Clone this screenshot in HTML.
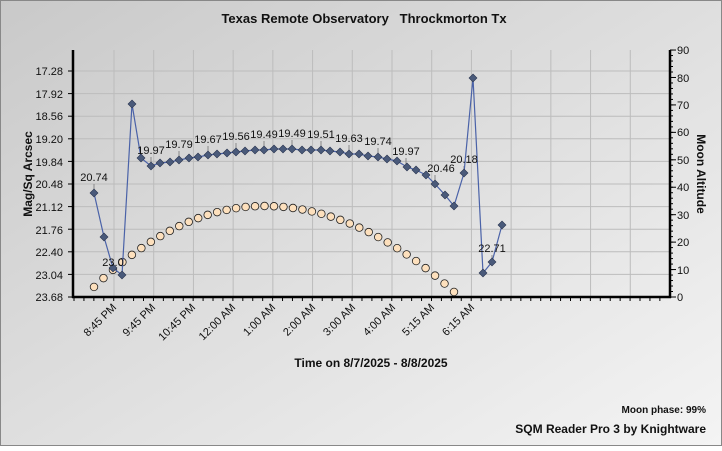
<!DOCTYPE html>
<html><head><meta charset="utf-8"><style>
html,body{margin:0;padding:0;}
body{width:722px;height:446px;overflow:hidden;font-family:"Liberation Sans",Arial,sans-serif;}
</style></head><body>
<svg id="s" width="722" height="446" xmlns="http://www.w3.org/2000/svg" font-family="Liberation Sans, Arial, sans-serif">
<defs>
<linearGradient id="bg" x1="0" y1="0" x2="1" y2="1">
<stop offset="0" stop-color="#c9c9c9"/><stop offset="1" stop-color="#f4f4f4"/>
</linearGradient>
<path id="dm" d="M0,-4 L4,0 L0,4 L-4,0 Z" fill="#4a5a7a" stroke="#2a3550" stroke-width="0.6"/>
</defs>
<rect x="0" y="0" width="722" height="446" fill="url(#bg)"/>
<rect x="0.5" y="0.5" width="721" height="445" fill="none" stroke="#888"/>
<text x="364" y="23" font-size="13" font-weight="bold" text-anchor="middle" fill="#111" xml:space="preserve">Texas Remote Observatory   Throckmorton Tx</text>
<g id="grid" stroke="#bcbcbc" stroke-width="1"></g>
<g stroke="#000" stroke-width="2.5">
<line x1="73" y1="50" x2="73" y2="298"/>
<line x1="670" y1="50" x2="670" y2="298"/>
<line x1="72" y1="297" x2="671" y2="297"/>
</g>
<g id="ticks" stroke="#000" stroke-width="1"></g>
<g font-size="11" fill="#111" text-anchor="end">
<text x="63" y="75">17.28</text><text x="63" y="98">17.92</text><text x="63" y="120">18.56</text>
<text x="63" y="143">19.20</text><text x="63" y="166">19.84</text><text x="63" y="188">20.48</text>
<text x="63" y="211">21.12</text><text x="63" y="234">21.76</text><text x="63" y="256">22.40</text>
<text x="63" y="279">23.04</text><text x="63" y="301">23.68</text>
</g>
<g font-size="11" fill="#111" text-anchor="start">
<text x="677" y="54">90</text><text x="677" y="82">80</text><text x="677" y="109">70</text>
<text x="677" y="136">60</text><text x="677" y="164">50</text><text x="677" y="191">40</text>
<text x="677" y="219">30</text><text x="677" y="246">20</text><text x="677" y="274">10</text>
<text x="677" y="301">0</text>
</g>
<text transform="translate(32,174) rotate(-90)" font-size="12" font-weight="bold" text-anchor="middle" fill="#111">Mag/Sq Arcsec</text>
<text transform="translate(697,174) rotate(90)" font-size="12" font-weight="bold" text-anchor="middle" fill="#111">Moon Altitude</text>
<g font-size="11" fill="#111" text-anchor="end">
<text transform="translate(117,308) rotate(-45)">8:45 PM</text>
<text transform="translate(156,308) rotate(-45)">9:45 PM</text>
<text transform="translate(196,308) rotate(-45)">10:45 PM</text>
<text transform="translate(236,308) rotate(-45)">12:00 AM</text>
<text transform="translate(276,308) rotate(-45)">1:00 AM</text>
<text transform="translate(316,308) rotate(-45)">2:00 AM</text>
<text transform="translate(356,308) rotate(-45)">3:00 AM</text>
<text transform="translate(396,308) rotate(-45)">4:00 AM</text>
<text transform="translate(435,308) rotate(-45)">5:15 AM</text>
<text transform="translate(475,308) rotate(-45)">6:15 AM</text>
</g>
<text x="371" y="367" font-size="12" font-weight="bold" text-anchor="middle" fill="#111">Time on 8/7/2025 - 8/8/2025</text>
<text x="706" y="413" font-size="10" font-weight="bold" text-anchor="end" fill="#111">Moon phase: 99%</text>
<text x="706" y="433" font-size="12" font-weight="bold" text-anchor="end" fill="#111">SQM Reader Pro 3 by Knightware</text>
<g id="moon"></g>
<g stroke="#888" stroke-width="1">
<line x1="94" y1="184" x2="94" y2="190"/><line x1="151" y1="157" x2="151" y2="163"/>
<line x1="179" y1="151" x2="179" y2="157"/><line x1="208" y1="146" x2="208" y2="152"/>
<line x1="236" y1="143" x2="236" y2="149"/><line x1="264" y1="141" x2="264" y2="147"/>
<line x1="292" y1="140" x2="292" y2="146"/><line x1="321" y1="141" x2="321" y2="147"/>
<line x1="349" y1="145" x2="349" y2="151"/><line x1="378" y1="148" x2="378" y2="154"/>
<line x1="406" y1="158" x2="406" y2="164"/><line x1="435" y1="175" x2="435" y2="181"/>
<line x1="464" y1="166" x2="464" y2="170"/><line x1="492" y1="255" x2="492" y2="259"/>
</g>
<polyline id="ln" fill="none" stroke="#4a62a8" stroke-width="1.2" points="94,193 104,237 113,268 122,275 132,104 141,158 151,166 160,163 170,162 179,160 189,158 198,157 208,155 217,154 227,153 236,152 245,151 255,150 264,150 274,149 283,149 292,149 302,150 311,150 321,150 330,151 340,152 349,154 359,154 368,156 378,157 387,159 397,161 407,167 416,170 426,175 435,184 445,195 454,206 464,173 473,78 483,273 492,262 502,225"/>
<g id="dms"></g>
<g font-size="11" fill="#111" text-anchor="middle">
<text x="94" y="181">20.74</text><text x="113" y="266">23.0</text>
<text x="151" y="154">19.97</text><text x="179" y="148">19.79</text><text x="208" y="143">19.67</text>
<text x="236" y="140">19.56</text><text x="264" y="138">19.49</text><text x="292" y="137">19.49</text>
<text x="321" y="138">19.51</text><text x="349" y="142">19.63</text><text x="378" y="145">19.74</text>
<text x="406" y="155">19.97</text><text x="441" y="172">20.46</text><text x="464" y="163">20.18</text>
<text x="492" y="252">22.71</text>
</g>
</svg>
<script>
var NS="http://www.w3.org/2000/svg";
function el(p,t,a){var e=document.createElementNS(NS,t);for(var k in a)e.setAttribute(k,a[k]);document.getElementById(p).appendChild(e);return e;}
for(var i=0;i<=14;i++){var x=114+i*39.714;el("grid","line",{x1:x,y1:50,x2:x,y2:297});}
for(var j=0;j<10;j++){var y=71+j*22.6;el("grid","line",{x1:73,y1:y,x2:670,y2:y});}
for(var j=0;j<=10;j++){var y=71+j*22.6;el("ticks","line",{x1:68,y1:y,x2:73,y2:y});}
for(var j=0;j<=9;j++){var y=297-j*27.44;el("ticks","line",{x1:670,y1:y,x2:676,y2:y});}
for(var j=0;j<=45;j++){var y=297-j*5.488;el("ticks","line",{x1:670,y1:y,x2:673,y2:y});}
for(var i=0;i<60;i++){var x=74+i*9.93;if(x>670)break;el("ticks","line",{x1:x,y1:297,x2:x,y2:301});}
for(var i=0;i<39;i++){var x=94+i*(360/38);var a=x<264?0.0028:0.00238;var y=206+a*(x-264)*(x-264);
el("moon","circle",{cx:x,cy:y,r:3.8,fill:"#fde0bd",stroke:"#222","stroke-width":0.8});}
var pts=document.getElementById("ln").getAttribute("points").split(" ");
pts.forEach(function(p){var c=p.split(",");var u=document.createElementNS(NS,"use");u.setAttribute("href","#dm");u.setAttribute("x",c[0]);u.setAttribute("y",c[1]);document.getElementById("dms").appendChild(u);});
</script>
</body></html>
